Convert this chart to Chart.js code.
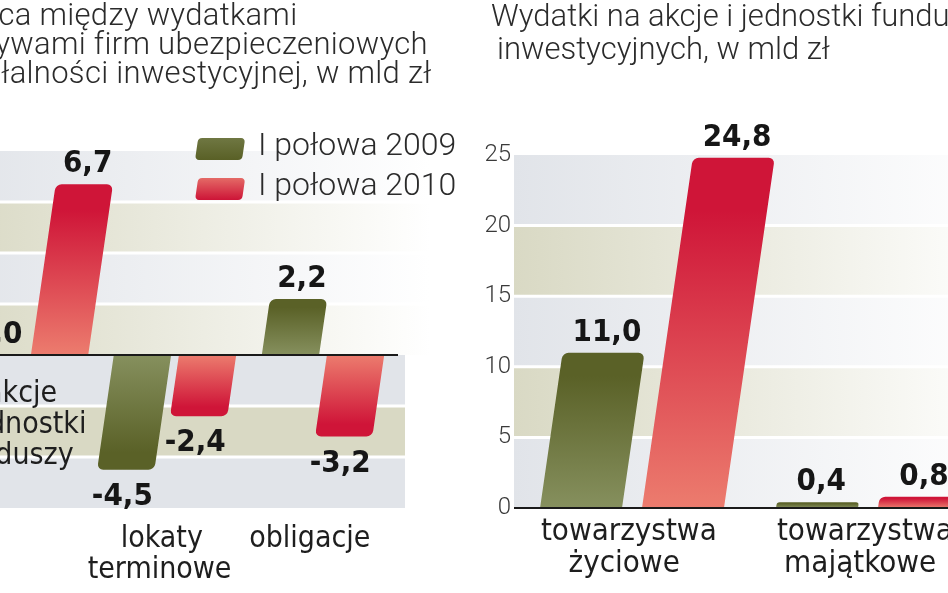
<!DOCTYPE html>
<html lang="pl">
<head>
<meta charset="UTF-8">
<title>Wydatki firm ubezpieczeniowych</title>
<script src="https://cdn.jsdelivr.net/npm/chart.js"></script>
<style>
  html, body { margin: 0; padding: 0; background: #fff; overflow: hidden; }
  body { width: 948px; height: 593px; position: relative; font-family: Roboto, "Liberation Sans", sans-serif; }
  .title { position: absolute; white-space: nowrap; font-weight: 300; color: #2b2b2b; z-index: 2; font-size: 31px; }
  #titleLeft { left: -79px; top: 0; line-height: 29px; letter-spacing: 0.3px; }
  #titleRight { left: 491px; top: -1px; line-height: 33px; }
  .box { position: absolute; top: 0; height: 593px; }
  #leftBox { left: -100px; width: 580px; }
  #rightBox { left: 470px; width: 530px; }
</style>
</head>
<body>
<div class="box" id="leftBox"><canvas id="leftChart" width="580" height="593"></canvas></div>
<div class="box" id="rightBox"><canvas id="rightChart" width="530" height="593"></canvas></div>
<div class="title" id="titleLeft">Różnica między wydatkami<br>a wpływami firm ubezpieczeniowych<br>z działalności inwestycyjnej, w mld zł</div>
<div class="title" id="titleRight">Wydatki na akcje i jednostki funduszy<br><span style="margin-left:6px">inwestycyjnych, w mld zł</span></div>

<script>
  // data
  const seriesNames = ['I połowa 2009', 'I połowa 2010'];

  const leftCategories = [['akcje', 'i jednostki', 'funduszy'], ['lokaty', 'terminowe'], ['obligacje']];
  const left2009 = [0.0, -4.5, 2.2];
  const left2010 = [6.7, -2.4, -3.2];
  const leftTicks = [-6, -4, -2, 0, 2, 4, 6, 8];

  const rightCategories = [['towarzystwa', 'życiowe'], ['towarzystwa', 'majątkowe']];
  const right2009 = [11.0, 0.4];
  const right2010 = [24.8, 0.8];
  const rightTicks = [0, 5, 10, 15, 20, 25];

  // look
  const K = 0.145; // slant of the bars
  const GREEN = ['#5a6127', '#86905e']; // far end, base
  const RED = ['#cf1538', '#ec7c6e'];
  const KHAKI = '#d9d9c4';
  const GRAY = '#e1e4e9';
  const VALUE_FONT = 'bold 31px "DejaVu Sans Condensed", "DejaVu Sans", sans-serif';

  function fmt(v) { return v.toFixed(1).replace('.', ','); }

  function fillFor(colors) {
    return function (c) {
      const chart = c.chart;
      if (c.type !== 'data' || !chart.chartArea) return colors[0];
      const y = chart.scales.y;
      const p0 = y.getPixelForValue(0);
      const p1 = y.getPixelForValue(c.parsed.y);
      if (Math.abs(p1 - p0) < 1) return colors[0];
      const g = chart.ctx.createLinearGradient(0, p1, 0, p0);
      g.addColorStop(0, colors[0]);
      g.addColorStop(0.15, colors[0]);
      g.addColorStop(1, colors[1]);
      return g;
    };
  }

  // bands, slanted bars, labels
  function slantPlugin(cfg) {
    return {
      id: 'slant',
      beforeDatasetsDraw(chart) {
        const { ctx, chartArea: a, scales: { y } } = chart;
        const y0 = y.getPixelForValue(0);
        const vals = cfg.ticks;
        ctx.save();
        for (let i = 0; i < vals.length - 1; i++) {
          const top = y.getPixelForValue(vals[i + 1]);
          const bot = y.getPixelForValue(vals[i]);
          const col = i % 2 ? KHAKI : GRAY;
          if (vals[i] < 0) {
            ctx.fillStyle = col;
            ctx.fillRect(a.left, top, a.width + cfg.extBelow, bot - top);
          } else {
            const g = ctx.createLinearGradient(a.left, 0, a.right + cfg.fade, 0);
            g.addColorStop(0, col);
            g.addColorStop(1, '#ffffff');
            ctx.fillStyle = g;
            ctx.fillRect(a.left, top, a.width + cfg.fade, bot - top);
          }
        }
        ctx.strokeStyle = '#ffffff';
        ctx.lineWidth = 3;
        vals.slice(1, -1).forEach(v => {
          if (v === 0) return;
          const py = y.getPixelForValue(v);
          ctx.beginPath();
          ctx.moveTo(a.left, py);
          ctx.lineTo(a.right + (v < 0 ? cfg.extBelow : cfg.fade), py);
          ctx.stroke();
        });
        ctx.restore();
        ctx.save();
        ctx.transform(1, 0, -K, 1, K * y0, 0);
      },
      afterDatasetsDraw(chart) {
        const { ctx, chartArea: a, scales: { x, y } } = chart;
        ctx.restore();
        const y0 = y.getPixelForValue(0);
        ctx.save();
        ctx.strokeStyle = '#1a1a1a';
        ctx.lineWidth = 2;
        ctx.beginPath();
        ctx.moveTo(a.left, y0);
        ctx.lineTo(a.right + cfg.lineExt, y0);
        ctx.stroke();

        ctx.font = VALUE_FONT;
        ctx.fillStyle = '#161616';
        ctx.textAlign = 'center';
        ctx.textBaseline = 'alphabetic';
        chart.data.datasets.forEach((ds, di) => {
          chart.getDatasetMeta(di).data.forEach((bar, i) => {
            const v = ds.data[i];
            const base = v >= 0 ? bar.y - 12 : bar.y + 35;
            const mid = base - 11;
            ctx.fillText(fmt(v), bar.x + K * (y0 - mid), base);
          });
        });

        // category names: just under the zero line, or under the plot when a bar goes negative
        ctx.font = cfg.catFont;
        ctx.fillStyle = '#1e1e1e';
        chart.data.labels.forEach((lines, i) => {
          const low = Math.min(...chart.data.datasets.map(d => d.data[i]));
          const below = low < 0;
          const by = below ? a.bottom + cfg.catBelow : y0 + cfg.catAbove;
          const k = below ? K / 2 : K;
          lines.forEach((t, j) => {
            const ly = by + j * cfg.catLine;
            ctx.fillText(t, x.getPixelForValue(i) + k * (y0 - (ly - 10)), ly);
          });
        });
        ctx.restore();
      }
    };
  }

  const legendPlugin = {
    id: 'slantLegend',
    afterDraw(chart) {
      const { ctx, chartArea: a } = chart;
      const swatches = [['#6f7742', '#596026'], ['#e46a66', '#cd1437']];
      ctx.save();
      chart.data.datasets.forEach((ds, i) => {
        const sx = a.right - 202, sy = a.top - 13 + i * 40, w = 47, h = 22;
        ctx.save();
        ctx.translate(sx, sy + h);
        ctx.transform(1, 0, -K, 1, 0, 0);
        const g = ctx.createLinearGradient(0, -h, 0, 0);
        g.addColorStop(0, swatches[i][0]);
        g.addColorStop(1, swatches[i][1]);
        ctx.fillStyle = g;
        ctx.beginPath();
        ctx.roundRect(0, -h, w, h, 4);
        ctx.fill();
        ctx.restore();
        ctx.font = '300 32px Roboto, "Liberation Sans", sans-serif';
        ctx.fillStyle = '#2b2b2b';
        ctx.textAlign = 'left';
        ctx.textBaseline = 'alphabetic';
        ctx.fillText(ds.label, a.right - 139, a.top + 4 + i * 40);
      });
      ctx.restore();
    }
  };

  new Chart(document.getElementById('leftChart'), {
    type: 'bar',
    data: {
      labels: leftCategories,
      datasets: [
        { label: seriesNames[0], data: left2009, backgroundColor: fillFor(GREEN) },
        { label: seriesNames[1], data: left2010, backgroundColor: fillFor(RED) }
      ]
    },
    options: {
      responsive: false,
      animation: false,
      layout: { padding: { left: 53, right: 83, top: 151, bottom: 85 } },
      datasets: { bar: { categoryPercentage: 0.88, barPercentage: 0.88, borderRadius: 6 } },
      scales: {
        x: { display: false },
        y: { display: false, min: leftTicks[0], max: leftTicks[leftTicks.length - 1] }
      },
      plugins: { legend: { display: false }, tooltip: { enabled: false } }
    },
    plugins: [
      slantPlugin({ ticks: leftTicks, fade: 33, extBelow: 8, lineExt: 1, catFont: '30px "DejaVu Sans Condensed", "DejaVu Sans", sans-serif', catAbove: 47, catBelow: 39, catLine: 31 }),
      legendPlugin
    ]
  });

  new Chart(document.getElementById('rightChart'), {
    type: 'bar',
    data: {
      labels: rightCategories,
      datasets: [
        { label: seriesNames[0], data: right2009, backgroundColor: fillFor(GREEN) },
        { label: seriesNames[1], data: right2010, backgroundColor: fillFor(RED) }
      ]
    },
    options: {
      responsive: false,
      animation: false,
      layout: { padding: { left: 4, right: 14, top: 155, bottom: 85 } },
      datasets: { bar: { categoryPercentage: 0.864, barPercentage: 0.804, borderRadius: 6 } },
      scales: {
        x: { display: false },
        y: {
          min: rightTicks[0],
          max: rightTicks[rightTicks.length - 1],
          border: { display: false },
          grid: { display: false, drawTicks: false },
          ticks: {
            stepSize: rightTicks[1] - rightTicks[0],
            padding: 3,
            color: '#3a3a3a',
            font: { family: 'Roboto', weight: 300, size: 24 }
          },
          afterFit(s) { s.width = 40; }
        }
      },
      plugins: { legend: { display: false }, tooltip: { enabled: false } }
    },
    plugins: [
      slantPlugin({ ticks: rightTicks, fade: 20, extBelow: 0, lineExt: 20, catFont: '31px "DejaVu Sans Condensed", "DejaVu Sans", sans-serif', catAbove: 32, catBelow: 32, catLine: 32 })
    ]
  });
</script>
</body>
</html>
